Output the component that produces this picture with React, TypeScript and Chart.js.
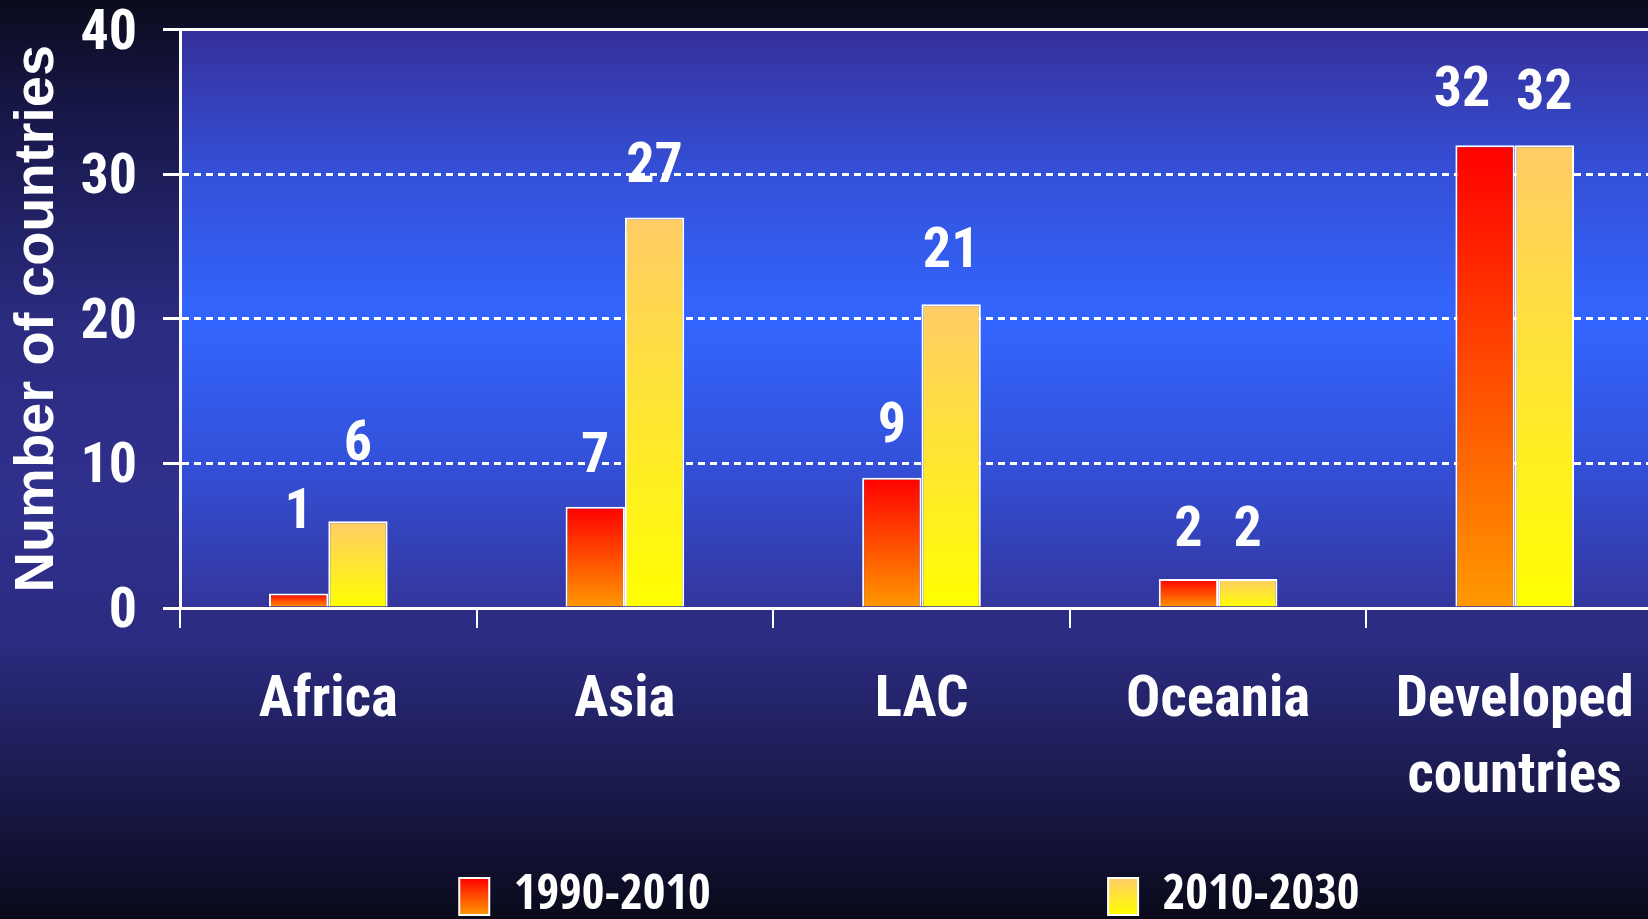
import React, { useEffect, useRef } from 'react';
import { Chart, registerables } from 'chart.js';

Chart.register(...registerables);

// ---- data ----
const categories: (string | string[])[] = ['Africa', 'Asia', 'LAC', 'Oceania', ['Developed', 'countries']];
const values1990 = [1, 7, 9, 2, 32];
const values2010 = [6, 27, 21, 2, 32];
const seriesNames = ['1990-2010', '2010-2030'];
const yTickValues = [0, 10, 20, 30, 40];
const yAxisTitle = 'Number of countries';

// ---- style ----
const FALLBACK = '"Liberation Sans", Arial, sans-serif';
const WIDE = '"Liberation Sans", Arial, sans-serif';
const NARROW_CANDIDATES: [string, string][] = [
  ['bold', '"Liberation Sans Narrow"'],
  ['bold', '"Arial Narrow"'],
  ['bold', '"Noto Sans Condensed"'],
  ['bold condensed', '"Noto Sans"'],
  ['bold', '"Noto Sans SemiCondensed"'],
  ['bold semi-condensed', '"Noto Sans"'],
  ['bold extra-condensed', '"Noto Sans"'],
  ['bold', '"Noto Sans ExtraCondensed"'],
  ['bold condensed', '"Open Sans"'],
  ['bold extra-condensed', '"Open Sans"'],
  ['bold', '"Open Sans Condensed"'],
  ['bold', '"Roboto Condensed"'],
  ['bold condensed', 'Roboto'],
  ['bold extra-condensed', 'Roboto'],
  ['bold', 'Roboto'],
  ['bold condensed', '"DejaVu Sans"'],
  ['bold', '"DejaVu Sans Condensed"'],
  ['bold', '"Liberation Sans"'],
];
// label placement tweaks (cap-centre height above the bar top, horizontal nudge)
const labelLift = [
  [86, 55, 56, 54, 60],
  [82, 56, 58, 54, 57],
];
const labelDx = [
  [0, 0, 0, 0, -23],
  [0, 0, 0, 0, 0],
];
const barColors = [
  ['#ff0000', '#ff9900'],
  ['#ffcc66', '#ffff00'],
];
const pageStops: [number, string][] = [
  [0, '#0b0b1e'],
  [0.12, '#171748'],
  [0.35, '#2b2b80'],
  [0.55, '#30308e'],
  [0.7, '#2b2b80'],
  [0.82, '#1e1e58'],
  [0.92, '#121236'],
  [1, '#0a0a1a'],
];
const plotStops: [number, string][] = [
  [0, '#36309a'],
  [0.25, '#3450d8'],
  [0.5, '#3366ff'],
  [0.75, '#3350d8'],
  [1, '#34359c'],
];

const W = 1648;
const H = 919;
const CW = 1664;
const CH = 931;
const LEGEND_FONT = 52;
const LEGEND_PAD = 10;
const BOX_W = 30;
const BOX_H = 37;
const LEGEND_STEP = 652;
const LEGEND_ROW = 925;
const PLOT_BOTTOM = 608;

type Pick = { weight: string; family: string; width: number };

function pickFont(text: string, size: number, target: number): Pick {
  const c = document.createElement('canvas').getContext('2d');
  let best: Pick = { weight: 'bold', family: FALLBACK, width: target };
  if (!c) return best;
  let bestErr = Infinity;
  for (const [w, f] of NARROW_CANDIDATES) {
    c.font = '10px serif';
    c.font = `${w} ${size}px ${f}, monospace`;
    if (c.font === '10px serif') continue;
    const width = c.measureText(text).width;
    const err = Math.abs(width - target);
    if (err < bestErr) {
      bestErr = err;
      best = { weight: w, family: `${f}, ${FALLBACK}`, width };
    }
  }
  return best;
}

export default function App() {
  const ref = useRef<HTMLCanvasElement>(null);

  useEffect(() => {
    const canvas = ref.current;
    if (!canvas) return;
    const N = pickFont('Oceania', 57, 184);
    const L = pickFont(seriesNames[0], LEGEND_FONT, 187);
    const legendSize =
      L.width > 187 * 1.06 ? Math.round(LEGEND_FONT * Math.sqrt(187 / L.width)) : LEGEND_FONT;
    const narrowFont = (size: number, lineHeight = 1) => ({
      family: N.family,
      size,
      weight: N.weight as any,
      lineHeight,
    });

    const barFill = (si: number) => (c: any) => {
      const chart = c.chart;
      const y = chart.scales && chart.scales.y;
      if (c.type !== 'data' || !y || !chart.chartArea) return barColors[si][0];
      const v = Number(c.raw);
      const top = y.getPixelForValue(v);
      const bottom = y.getPixelForValue(0);
      if (!isFinite(top) || !isFinite(bottom) || Math.abs(bottom - top) < 1) return barColors[si][0];
      const g = chart.ctx.createLinearGradient(0, top, 0, bottom);
      g.addColorStop(0, barColors[si][0]);
      g.addColorStop(1, barColors[si][1]);
      return g;
    };

    const backgroundPlugin = {
      id: 'bgs',
      beforeDraw(chart: any) {
        const { ctx, chartArea } = chart;
        ctx.save();
        const g = ctx.createLinearGradient(0, 0, 0, H);
        pageStops.forEach(([o, c]) => g.addColorStop(o, c));
        ctx.fillStyle = g;
        ctx.fillRect(0, 0, chart.width, chart.height);
        if (chartArea) {
          const p = ctx.createLinearGradient(0, chartArea.top, 0, chartArea.bottom);
          plotStops.forEach(([o, c]) => p.addColorStop(o, c));
          ctx.fillStyle = p;
          ctx.fillRect(chartArea.left, chartArea.top, chartArea.right - chartArea.left, chartArea.bottom - chartArea.top);
        }
        ctx.restore();
        const lg = chart.legend;
        if (lg && lg.legendItems) {
          const top = lg.top + LEGEND_PAD + Math.max((legendSize - BOX_H) / 2, 0);
          lg.legendItems.forEach((it: any, i: number) => {
            const gg = ctx.createLinearGradient(0, top, 0, top + BOX_H);
            gg.addColorStop(0, barColors[i][0]);
            gg.addColorStop(1, barColors[i][1]);
            it.fillStyle = gg;
          });
        }
      },
    };

    const valueLabelPlugin = {
      id: 'valueLabels',
      afterDatasetsDraw(chart: any) {
        const ctx = chart.ctx;
        ctx.save();
        ctx.font = `${N.weight} 56px ${N.family}`;
        ctx.fillStyle = '#ffffff';
        ctx.textAlign = 'center';
        ctx.textBaseline = 'alphabetic';
        const cap = ctx.measureText('0').actualBoundingBoxAscent || 40;
        chart.data.datasets.forEach((ds: any, di: number) => {
          const meta = chart.getDatasetMeta(di);
          meta.data.forEach((el: any, i: number) => {
            ctx.fillText(String(ds.data[i]), el.x + labelDx[di][i], el.y - labelLift[di][i] + cap / 2);
          });
        });
        ctx.restore();
      },
    };

    const generateLabels = (chart: any) => {
      const ctx = chart.ctx;
      ctx.save();
      ctx.font = `${L.weight} ${legendSize}px ${L.family}`;
      const w1 = BOX_W + legendSize / 2 + ctx.measureText(seriesNames[0]).width;
      const w2 = BOX_W + legendSize / 2 + ctx.measureText(seriesNames[1]).width;
      const sp = ctx.measureText('          ').width / 10 || 10;
      ctx.restore();
      const n1 = Math.max(0, Math.round((LEGEND_STEP - LEGEND_PAD - w1) / sp));
      const n2 = Math.max(0, Math.round((LEGEND_ROW - LEGEND_STEP - w2) / sp));
      return seriesNames.map((name, i) => ({
        text: name + ' '.repeat(i === 0 ? n1 : n2),
        fillStyle: barColors[i][0],
        strokeStyle: '#ffffff',
        lineWidth: 2,
        fontColor: '#ffffff',
        hidden: false,
        datasetIndex: i,
      }));
    };

    const zeroPad = (s: any) => {
      s.paddingTop = 0;
      s.paddingBottom = 0;
      s.paddingLeft = 0;
      s.paddingRight = 0;
    };

    const chart = new Chart(canvas, {
      type: 'bar',
      data: {
        labels: categories as any,
        datasets: [
          {
            label: seriesNames[0],
            data: values1990,
            backgroundColor: barFill(0) as any,
            borderColor: '#ffffff',
            borderWidth: 2,
            barPercentage: 1,
            categoryPercentage: 0.4,
          },
          {
            label: seriesNames[1],
            data: values2010,
            backgroundColor: barFill(1) as any,
            borderColor: '#ffffff',
            borderWidth: 2,
            barPercentage: 1,
            categoryPercentage: 0.4,
          },
        ],
      },
      options: {
        responsive: false,
        animation: false,
        devicePixelRatio: 1,
        layout: { padding: { top: 29.5, right: 1, bottom: 0, left: 0 } },
        plugins: {
          legend: {
            position: 'bottom',
            fullSize: false,
            labels: {
              boxWidth: BOX_W,
              boxHeight: BOX_H,
              padding: LEGEND_PAD,
              color: '#ffffff',
              font: { family: L.family, size: legendSize, weight: L.weight as any, lineHeight: 1 },
              generateLabels,
            },
          },
          tooltip: { enabled: false },
        },
        scales: {
          x: {
            type: 'category',
            offset: true,
            grid: {
              offset: true,
              drawOnChartArea: false,
              drawTicks: true,
              tickLength: 20,
              tickWidth: 2,
              tickColor: '#ffffff',
              color: '#ffffff',
              lineWidth: 2,
            },
            border: { display: true, color: '#ffffff', width: 3 },
            ticks: {
              color: '#ffffff',
              padding: 36.5,
              maxRotation: 0,
              autoSkip: false,
              font: narrowFont(57, 1.32),
            },
            afterFit: (s: any) => {
              zeroPad(s);
              s.height = CH - (legendSize + LEGEND_PAD + 10) - PLOT_BOTTOM;
            },
          },
          x2: {
            type: 'category',
            position: 'top',
            grid: { display: false, drawTicks: false },
            ticks: { display: false },
            border: { display: true, color: '#ffffff', width: 3 },
            afterFit: (s: any) => {
              zeroPad(s);
              s.height = 0;
            },
          },
          y: {
            type: 'linear',
            min: 0,
            max: 40,
            afterBuildTicks: (s: any) => {
              s.ticks = yTickValues.map((v) => ({ value: v }));
            },
            grid: {
              color: '#ffffff',
              lineWidth: 3,
              tickColor: '#ffffff',
              tickWidth: 3,
              tickLength: 17,
              drawTicks: true,
            },
            border: { display: true, color: '#ffffff', width: 3, dash: [7, 5] },
            ticks: {
              color: '#ffffff',
              padding: 26,
              labelOffset: 5,
              font: narrowFont(56),
            },
            title: {
              display: true,
              text: yAxisTitle,
              color: '#ffffff',
              font: { family: WIDE, size: 56, weight: 'bold', lineHeight: 1 },
              padding: { top: 10, bottom: 0 },
            },
            afterFit: (s: any) => {
              zeroPad(s);
              s.width = 180;
            },
          },
        },
      } as any,
      plugins: [backgroundPlugin, valueLabelPlugin],
    });

    return () => {
      chart.destroy();
    };
  }, []);

  return (
    <div
      style={{
        position: 'fixed',
        left: 0,
        top: 0,
        width: W,
        height: H,
        overflow: 'hidden',
        background: '#0b0b1e',
      }}
    >
      <canvas ref={ref} width={CW} height={CH} style={{ display: 'block', width: CW, height: CH }} />
    </div>
  );
}
